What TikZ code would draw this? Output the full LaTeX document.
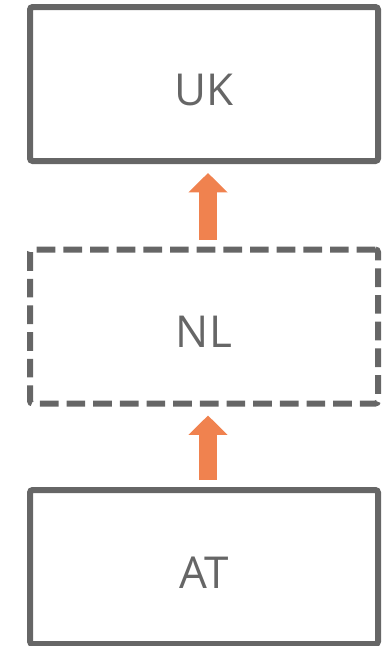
\documentclass[tikz,border=0pt]{standalone}
\usepackage{fontspec}
\setmainfont{Open Sans}
\usetikzlibrary{arrows.meta}
\usetikzlibrary{positioning}

\definecolor{boxgray}{HTML}{666666}
\definecolor{flow}{HTML}{F0824F}

\tikzset{
  country/.style={draw=boxgray,line width=4.5pt,rounded corners=2pt,
    minimum width=261pt,minimum height=115.5pt,outer sep=0pt,
    text height=31.5pt,text depth=0pt,
    text=boxgray,font=\fontsize{33}{40}\selectfont},
  transit/.style={country,dash pattern=on 14pt off 6pt},
  flowarrow/.style={flow,line width=13.5pt,
    -{Triangle[width=28.5pt,length=14.5pt]}}
}

\begin{document}
\begin{tikzpicture}[x=0.75pt,y=-0.75pt]
	\useasboundingbox (0,0) rectangle (383,646);
	%Countries
		\node[country] (uk) at (204,84) {UK};
		\node[transit] (nl) at (204,326.5) {NL};
		\node[country] (at) at (204,567) {AT};
	%Flows
		\draw[flowarrow,shorten <=7.5pt,shorten >=9pt]
			([xshift=3pt]nl.north) -- ([xshift=3pt]uk.south);
		\draw[flowarrow,shorten <=7.5pt,shorten >=9pt]
			([xshift=3pt]at.north) -- ([xshift=3pt]nl.south);
\end{tikzpicture}
\end{document}
